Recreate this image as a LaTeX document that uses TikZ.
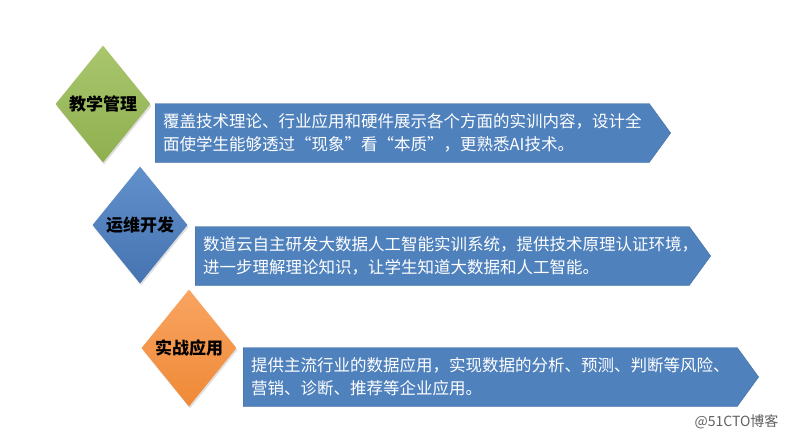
\documentclass[tikz,border=0pt]{standalone}
\usepackage{fontspec}
\newfontfamily\cjk{Noto Sans CJK SC}
\usetikzlibrary{shapes.geometric, shapes.symbols, shadows}

\definecolor{bandblue}{HTML}{4F81BD}
\definecolor{greentop}{HTML}{A9C66D}
\definecolor{greenbot}{HTML}{8FAF4F}
\definecolor{bluetop}{HTML}{6190CB}
\definecolor{bluebot}{HTML}{4674B2}
\definecolor{orangetop}{HTML}{F9A462}
\definecolor{orangebot}{HTML}{EF8936}

\begin{document}
\begin{tikzpicture}[
            x = 1pt, y = -1pt, % one unit = one pixel of the slide
            topic/.style = {
                diamond,
                minimum width = 95pt,
                minimum height = 117pt,
                inner sep = 0pt,
                drop shadow = {opacity = 0.25, shadow xshift = 1pt, shadow yshift = -2pt},
                font = \cjk\bfseries\fontsize{17}{17}\selectfont
            },
            band/.style = {
                signal,
                signal to = east,
                signal pointer angle = 108,
                fill = bandblue,
                draw = bandblue!85!black,
                line width = 0.4pt,
                minimum height = 59pt,
                inner xsep = 8pt,
                text width = 478pt,
                align = left,
                text = white,
                font = \cjk\fontsize{16.5}{23}\selectfont
            }
        ]

        \useasboundingbox (0, 0) rectangle (788, 442);
        \fill[white] (0, 0) rectangle (788, 442);

        % blue bands first, the diamonds lie over their left ends
        \node[band, anchor = west] (teachtext) at (155, 133)
            {覆盖技术理论、行业应用和硬件展示各个方面的实训内容，设计全\\面使学生能够透过“现象”看“本质”，更熟悉AI技术。};
        \node[band, anchor = west] (devtext) at (195, 256)
            {数道云自主研发大数据人工智能实训系统，提供技术原理认证环境，\\进一步理解理论知识，让学生知道大数据和人工智能。};
        \node[band, anchor = west] (practext) at (243, 377)
            {提供主流行业的数据应用，实现数据的分析、预测、判断等风险、\\营销、诊断、推荐等企业应用。};

        \node[topic, top color = greentop, bottom color = greenbot] (teach) at (103, 104) {教学管理};
        \node[topic, top color = bluetop, bottom color = bluebot] (dev) at (140, 225) {运维开发};
        \node[topic, top color = orangetop, bottom color = orangebot] (prac) at (189, 348) {实战应用};

        %\draw[red] (teach.east) -- (teachtext.west);

        \node[anchor = east, text = black!62, font = \cjk\fontsize{14}{14}\selectfont] (mark) at (782, 422) {@51CTO博客};
    \end{tikzpicture}
\end{document}
